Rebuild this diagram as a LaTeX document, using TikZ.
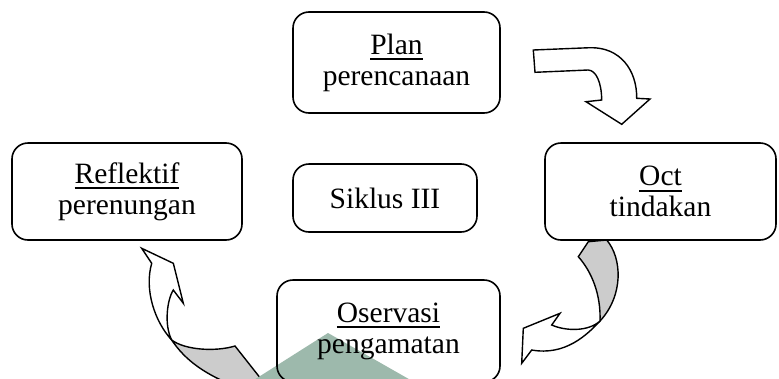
\documentclass[tikz,border=0pt]{standalone}
\usepackage{fontspec}
\setmainfont{Liberation Serif}
\definecolor{backgray}{RGB}{204,204,204}
\definecolor{sagegreen}{RGB}{157,185,172}
\newcommand\underlined[1]{\vtop{\hbox{#1}\kern4pt\hrule height 1.8pt}}

\begin{document}
\begin{tikzpicture}
		[x=1pt,y=-1pt,%
		  every node/.style={shape=rectangle,rounded corners=16pt,inner sep=0pt,draw,line width=1.6pt,fill=white,align=center},
		  arrowfront/.style={draw,line width=1.4pt,fill=white},
		  arrowback/.style={draw,line width=1.4pt,fill=backgray}]
		\fontsize{29.5}{31}\selectfont
		\useasboundingbox (0,0) rectangle (779,378);
		\draw[arrowfront] (533.3,50) -- (590,47.7) .. controls (620,47) and (637,70) .. (636.7,98.3)
		  -- (650,99) -- (621.7,124.3) -- (586,101.7) -- (601.7,100)
		  .. controls (601.5,82) and (596,70.5) .. (588.3,70) -- (535,72.3) -- cycle;
		\draw[arrowback] (578.3,256.7) -- (588.3,241.7) -- (606.7,240)
		  .. controls (622,258) and (624,295) .. (600,321)
		  .. controls (601,295) and (592,272) .. (578.3,256.7) -- cycle;
		\draw[arrowfront] (600,321) .. controls (587,335) and (565,356) .. (531.7,350)
		  -- (521.7,363.3) -- (523.3,328.3) -- (560,313.3) -- (551.7,325)
		  .. controls (565,331) and (588,332) .. (600,321) -- cycle;
		\draw[arrowback] (171.7,340) .. controls (185,350) and (215,352) .. (235,346)
		  -- (265,384) -- (240,388) .. controls (205,375) and (185,360) .. (171.7,340) -- cycle;
		\draw[arrowfront] (151.7,263.3) -- (141.7,248.3) -- (173.3,263.3) -- (183.3,303.3) -- (173.3,290)
		  .. controls (167,300) and (164,325) .. (171.7,340)
		  .. controls (155,322) and (144,290) .. (151.7,263.3) -- cycle;
		\node (plan) [minimum width=207pt,minimum height=101pt] at (396.5,62.5) {\underlined{Plan}\\perencanaan};
		\node (reflektif) [minimum width=230pt,minimum height=97pt] at (127,191.5) {\underlined{Reflektif}\\perenungan};
		\node (siklus) [minimum width=184pt,minimum height=68pt] at (385,198) {Siklus III};
		\node (oct) [minimum width=231pt,minimum height=97pt] at (660.5,191.5) {\underlined{Oct}\\tindakan};
		\fill[white] (277,280) rectangle (500,382);
		\fill[sagegreen] (250.7,382) -- (328,333) -- (414,382) -- cycle;
		\node (oservasi) [minimum width=223pt,minimum height=102pt,fill=none] at (388.5,331) {\underlined{Oservasi}\\pengamatan};
	\end{tikzpicture}
\end{document}
